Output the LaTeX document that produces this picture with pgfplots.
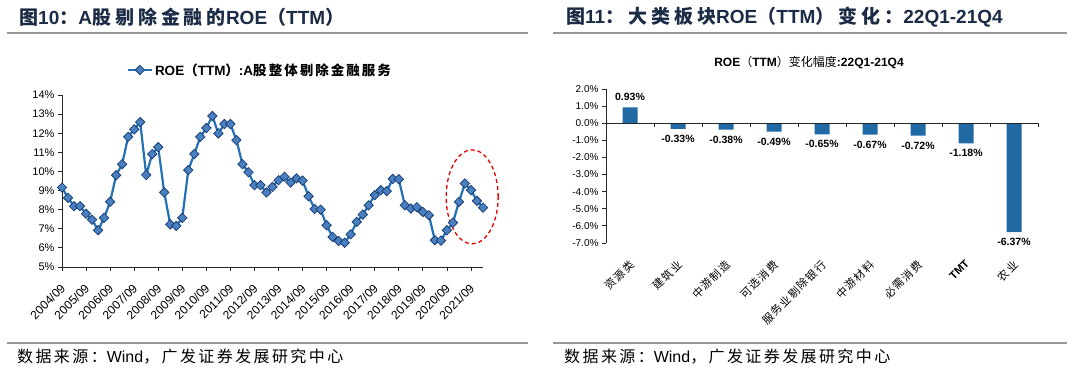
\documentclass[border=0pt]{standalone}
\usepackage{fontspec}
\setmainfont{Liberation Sans}
\newfontfamily\cjk{Noto Sans CJK SC}
\newfontfamily\cjkt[LetterSpace=21]{Noto Sans CJK SC}
\newfontfamily\cjks[LetterSpace=15]{Noto Sans CJK SC}
\newfontfamily\cjkm[LetterSpace=12]{Noto Sans CJK SC}
\usepackage{pgfplots}
\pgfplotsset{compat=1.18}
\newcommand{\zh}[1]{{\cjk #1}}
\newcommand{\zt}[1]{{\cjkt #1}}
\newcommand{\zs}[1]{{\cjks #1}}
\newcommand{\zm}[1]{{\cjkm #1}}
\definecolor{titlec}{RGB}{28,44,70}
\definecolor{lineblue}{RGB}{35,112,180}
\definecolor{markfill}{RGB}{75,128,192}
\definecolor{markdraw}{RGB}{26,64,120}
\definecolor{barblue}{RGB}{31,105,165}
\definecolor{sepgray}{RGB}{150,150,150}
\pgfplotstableread{
idx roe
0 9.16
1 8.62
2 8.18
3 8.18
4 7.79
5 7.48
6 6.92
7 7.57
8 8.41
9 9.80
10 10.38
11 11.81
12 12.20
13 12.58
14 9.82
15 10.91
16 11.27
17 8.90
18 7.23
19 7.15
20 7.57
21 10.07
22 10.91
23 11.81
24 12.27
25 12.90
26 11.99
27 12.48
28 12.48
29 11.64
30 10.38
31 9.96
32 9.28
33 9.28
34 8.90
35 9.19
36 9.54
37 9.72
38 9.42
39 9.64
40 9.52
41 8.70
42 8.04
43 8.00
44 7.18
45 6.57
46 6.36
47 6.27
48 6.71
49 7.36
50 7.74
51 8.23
52 8.76
53 9.02
54 8.97
55 9.61
56 9.59
57 8.23
58 8.06
59 8.13
60 7.88
61 7.71
62 6.40
63 6.38
64 6.92
65 7.32
66 8.41
67 9.37
68 9.02
69 8.46
70 8.11
}\roedata
\begin{document}
\begin{tikzpicture}[x=1pt,y=1pt]
% ---------- left panel frame ----------
\node[anchor=west, text=titlec, font=\fontsize{19}{22}\selectfont\bfseries, inner sep=0pt] at (19pt,362pt)
  {\zt{图}10\zt{：}A\zt{股剔除金融的}ROE\zt{（}TTM\zt{）}};
\draw[sepgray, line width=1.5pt] (7pt,346pt) -- (528pt,346pt);
\draw[sepgray, line width=1.5pt] (7pt,36pt) -- (528pt,36pt);
\node[anchor=west, font=\fontsize{16}{18}\selectfont, inner sep=0pt] at (17pt,22pt)
  {\zs{数据来源：}Wind\zs{，广发证券发展研究中心}};
% ---------- right panel frame ----------
\node[anchor=west, text=titlec, font=\fontsize{19}{22}\selectfont\bfseries, inner sep=0pt] at (566pt,362pt)
  {\zt{图}11\zt{：大类板块}ROE\zt{（}TTM\zt{）变化：}22Q1-21Q4};
\draw[sepgray, line width=1.5pt] (553pt,346pt) -- (1067pt,346pt);
\draw[sepgray, line width=1.5pt] (553pt,36pt) -- (1067pt,36pt);
\node[anchor=west, font=\fontsize{16}{18}\selectfont, inner sep=0pt] at (564pt,22pt)
  {\zs{数据来源：}Wind\zs{，广发证券发展研究中心}};
\node[font=\fontsize{12}{14}\selectfont] at (809pt,316pt)
  {\textbf{ROE}\zh{（}\textbf{TTM}\zh{）变化幅度}\textbf{:22Q1-21Q4}};

% ---------- left axis ----------
\begin{axis}[
  at={(62pt,112pt)}, anchor=south west,
  width=421pt, height=172pt, scale only axis,
  xmin=0, xmax=70, ymin=5, ymax=14,
  axis lines=left,
  axis line style={-, black!85, line width=0.9pt},
  tick style={black!85, line width=0.8pt},
  tick align=outside, major tick length=4pt,
  xtick={0,4,...,68},
  xticklabels={2004/09,2005/09,2006/09,2007/09,2008/09,2009/09,2010/09,2011/09,2012/09,2013/09,2014/09,2015/09,2016/09,2017/09,2018/09,2019/09,2020/09,2021/09},
  xticklabel style={rotate=45, anchor=north east, font=\fontsize{12}{13}\selectfont, inner sep=1pt, xshift=-9pt, yshift=-6pt},
  ytick={5,6,...,14},
  yticklabel={\pgfmathprintnumber{\tick}\%},
  yticklabel style={font=\fontsize{11}{13}\selectfont},
  /pgf/number format/assume math mode=true,
  clip=false,
  legend style={at={(0.47,1)}, anchor=center, yshift=25pt, draw=none, fill=none,
    font=\fontsize{13.5}{15}\selectfont\bfseries, legend cell align=left},
  legend image code/.code={
    \draw[lineblue, line width=2.2pt] (0pt,0pt) -- (24pt,0pt);
    \draw[markdraw, fill=markfill, line width=0.8pt] plot[mark=square*, mark options={rotate=45, mark size=3.3pt}] coordinates {(12pt,0pt)};
  },
]
\addplot[lineblue, line width=2.2pt, mark=square*,
  mark options={rotate=45, fill=markfill, draw=markdraw, line width=0.8pt, mark size=3.3pt}]
  table[x=idx, y=roe] {\roedata};
\addlegendentry{ROE{\cjk\bfseries （}TTM{\cjk\bfseries ）}:A{\cjks\bfseries 股整体剔除金融服务}}
\draw[red!90!black, line width=1.3pt, dash pattern=on 4pt off 3pt]
  (axis cs:68.2,8.67) ellipse [x radius=26pt, y radius=47pt];
\end{axis}

% ---------- right axis ----------
\begin{axis}[
  at={(606pt,136pt)}, anchor=south west,
  width=432pt, height=154pt, scale only axis,
  xmin=-0.5, xmax=8.5, ymin=-7, ymax=2,
  axis y line=left, axis x line=bottom,
  x axis line style={draw=none},
  y axis line style={-, black!85, line width=0.9pt},
  xtick style={draw=none},
  ytick style={black!85, line width=0.8pt},
  tick align=outside, major tick length=4pt,
  xtick={0,...,8},
  xticklabels={\zm{资源类},\zm{建筑业},\zm{中游制造},\zm{可选消费},\zm{服务业剔除银行},\zm{中游材料},\zm{必需消费},\textbf{TMT},\zm{农业}},
  xticklabel style={rotate=45, anchor=north east, font=\fontsize{11}{12}\selectfont, yshift=-4pt, xshift=-6pt},
  ytick={-7,-6,...,2},
  yticklabel={\pgfmathprintnumber[fixed,fixed zerofill,precision=1]{\tick}\%},
  yticklabel style={font=\fontsize{10}{12}\selectfont},
  /pgf/number format/assume math mode=true,
  clip=false,
]
\addplot[ybar, bar width=15pt, fill=barblue, draw=none,
  nodes near coords={\pgfmathprintnumber[fixed,fixed zerofill,precision=2]{\pgfplotspointmeta}\%},
  nodes near coords align={vertical},
  every node near coord/.append style={font=\fontsize{10.5}{12}\selectfont\bfseries, black, inner sep=6pt}]
  coordinates {(0,0.93) (1,-0.33) (2,-0.38) (3,-0.49) (4,-0.65) (5,-0.67) (6,-0.72) (7,-1.18) (8,-6.37)};
\draw[black!85, line width=0.9pt] (axis cs:-0.5,0) -- (axis cs:8.5,0);
\end{axis}
\foreach \k in {1,...,9} {\draw[black!85, line width=0.8pt] ({(606+48*\k)*1pt},256pt) -- ({(606+48*\k)*1pt},252pt);}

\pgfresetboundingbox
\path[use as bounding box] (0pt,0pt) rectangle (1080pt,379pt);
\end{tikzpicture}
\end{document}
